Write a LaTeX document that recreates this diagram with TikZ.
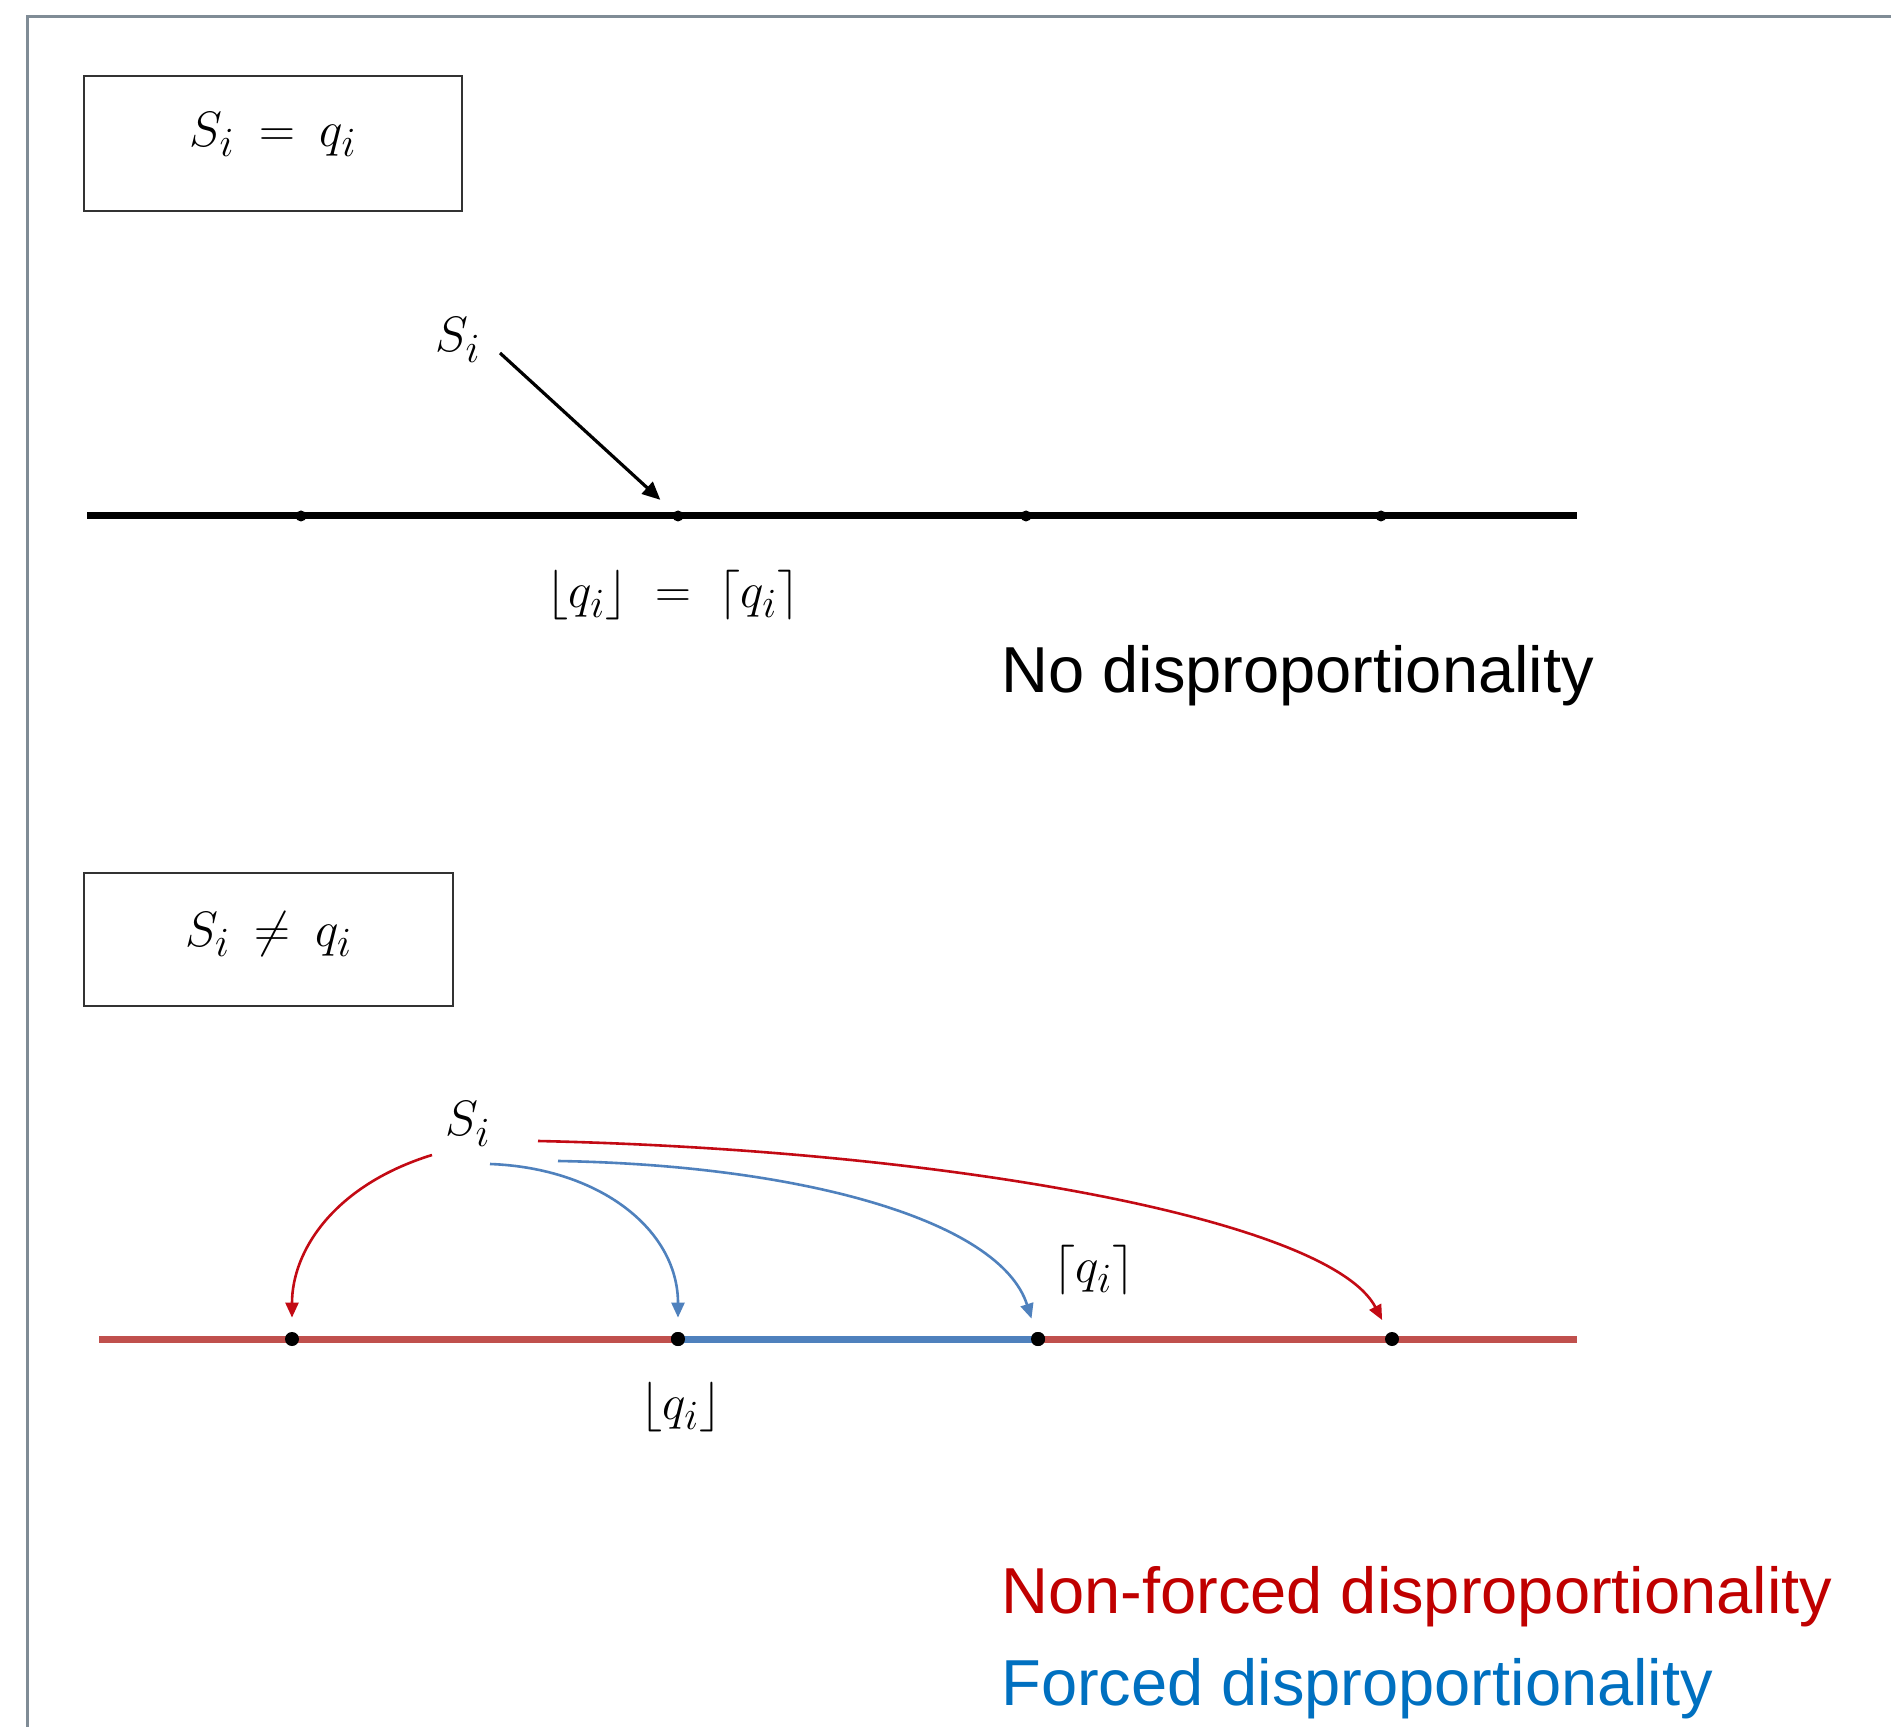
\documentclass[tikz,border=0pt]{standalone}
\usepackage{fontspec}
\setmainfont{Liberation Sans}
\usetikzlibrary{arrows.meta}
\definecolor{axred}{RGB}{192,80,77}
\definecolor{axblue}{RGB}{79,129,189}
\definecolor{arrred}{RGB}{195,10,20}
\definecolor{txtred}{RGB}{192,0,0}
\definecolor{txtblue}{RGB}{0,112,192}
\definecolor{framegray}{RGB}{128,140,150}
\begin{document}
\begin{tikzpicture}[x=0.5pt,y=-0.5pt,
  eqbox/.style={draw=black!80, line width=1.2pt, inner sep=0pt},
  boxtxt/.style={inner sep=0pt, anchor=base, font=\fontsize{32}{38}\selectfont},
  mathlbl/.style={inner sep=0pt, font=\fontsize{28}{34}\selectfont},
  brlbl/.style={inner sep=0pt, font=\fontsize{31}{37}\selectfont},
  legend/.style={inner sep=0pt, anchor=base west, font=\fontsize{32.5}{39}\selectfont},
  smalldot/.style={circle, fill=black, inner sep=0pt, minimum size=5.5pt},
  bigdot/.style={circle, fill=black, inner sep=0pt, minimum size=7pt},
  blackarr/.style={line width=1.6pt, -{Triangle[length=9pt,width=8pt]}},
  redarr/.style={arrred, line width=1.3pt, -{Triangle[length=7.5pt,width=6.5pt]}},
  bluearr/.style={axblue, line width=1.3pt, -{Triangle[length=7.5pt,width=6.5pt]}}
]
\useasboundingbox (0,0) rectangle (1891,1727);
\fill[white] (0,0) rectangle (1891,1727);
% outer frame
\draw[framegray, line width=1.5pt] (27,1727) -- (27,17) -- (1891,17);

% ---------- top part ----------
\node[eqbox, minimum width=189pt, minimum height=67.5pt] (box1) at (273,143.5) {};
\node[boxtxt] (box1t) at ([yshift=-1.5pt]box1.center) {$S_i \:=\: q_i$};

\coordinate (l1s) at (87,516);
\coordinate (l1e) at (1577,516);
\draw[line width=3.5pt] (l1s) -- (l1e);
\node[smalldot] (d11) at (301,516) {};
\node[smalldot] (d12) at (678,516) {};
\node[smalldot] (d13) at (1026,516) {};
\node[smalldot] (d14) at (1381,516) {};

\node[mathlbl] (si1) at (458,340) {$S_i$};
\coordinate (a0s) at (500,353);
\draw[blackarr, shorten >=9pt] (a0s) -- (d12);
\node[brlbl] (eq1) at (673,595) {$\lfloor q_i\rfloor \;=\; \lceil q_i\rceil$};
\node[legend] (nodisp) at (1001,693) {No disproportionality};

% ---------- bottom part ----------
\node[eqbox, minimum width=184.5pt, minimum height=66.5pt] (box2) at (268.5,939.5) {};
\node[boxtxt] (box2t) at ([yshift=-3.5pt]box2.center) {$S_i \:\neq\: q_i$};

\coordinate (l2s) at (99,1339);
\coordinate (l2e) at (1577,1339);
\draw[axred, line width=3.5pt] (l2s) -- (l2e);
\node[bigdot] (d21) at (292,1339) {};
\node[bigdot] (d22) at (678,1339) {};
\node[bigdot] (d23) at (1038,1339) {};
\node[bigdot] (d24) at (1392,1339) {};
\draw[axblue, line width=3.5pt] (d22.center) -- (d23.center);
\node[bigdot] at (d22) {};
\node[bigdot] at (d23) {};

\node[mathlbl] (si2) at (468,1124) {$S_i$};
\coordinate (rls) at (432,1155);
\coordinate (b1s) at (490,1164);
\coordinate (b2s) at (558,1161);
\coordinate (rrs) at (538,1141);
\draw[redarr, shorten >=7pt] (rls) .. controls (335,1185) and (292,1250) .. (d21);
\draw[bluearr, shorten >=7pt] (b1s) .. controls (600,1168) and (678,1230) .. (d22);
\draw[bluearr, shorten >=7pt] (b2s) .. controls (800,1165) and (1000,1220) .. (d23);
\draw[redarr, shorten >=7pt] (rrs) .. controls (950,1150) and (1330,1220) .. (d24);

\node[brlbl] (ceil2) at (1094,1270) {$\lceil q_i\rceil$};
\node[brlbl] (floor2) at (681,1407) {$\lfloor q_i\rfloor$};

\node[legend, text=txtred] (nonforced) at (1001,1613) {Non-forced disproportionality};
\node[legend, text=txtblue] (forced) at (1001,1705) {Forced disproportionality};
\end{tikzpicture}
\end{document}
